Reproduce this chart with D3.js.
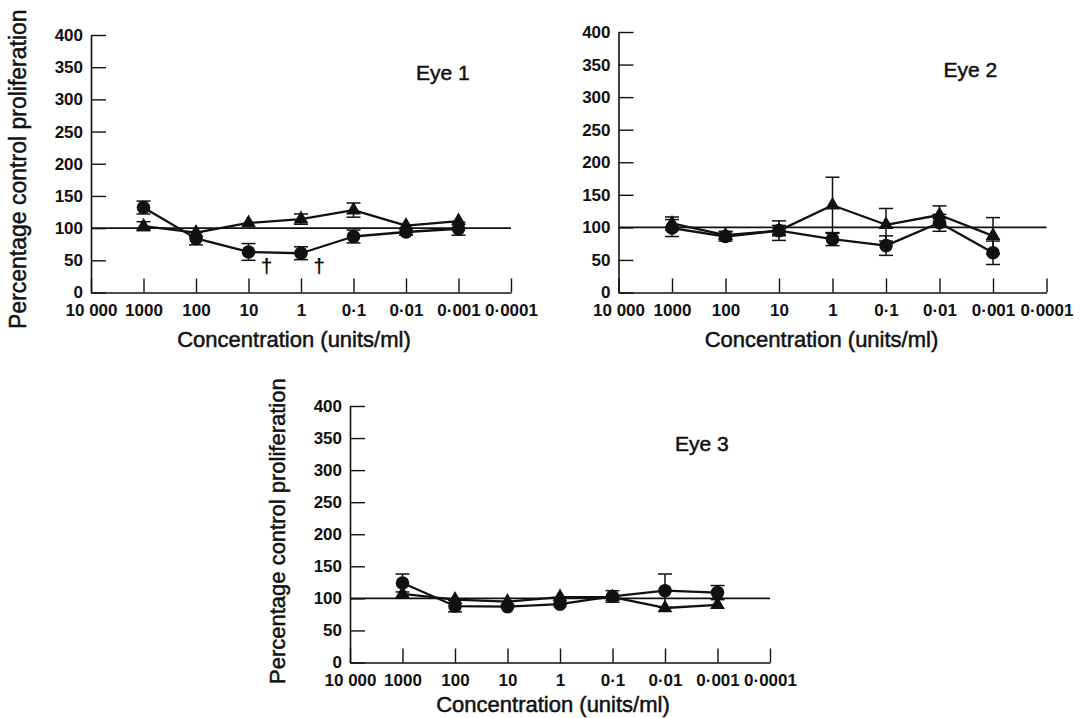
<!DOCTYPE html>
<html>
<head>
<meta charset="utf-8">
<script src="https://cdn.jsdelivr.net/npm/d3@7"></script>
<style>
  html, body { margin: 0; padding: 0; background: #fff; }
  svg { display: block; }
</style>
</head>
<body>
<svg id="chart" width="1087" height="718"></svg>
<script>
// ---------------- DATA ----------------
const concentrations = [1000, 100, 10, 1, 0.1, 0.01, 0.001];
const xTickValues = [10000, 1000, 100, 10, 1, 0.1, 0.01, 0.001, 0.0001];
const xTickLabels = ["10 000", "1000", "100", "10", "1", "0·1", "0·01", "0·001", "0·0001"];
const yTickValues = [0, 50, 100, 150, 200, 250, 300, 350, 400];
const controlLevel = 100;

// Eye 1
const eye1Circle      = [132, 84, 63, 61, 87, 94, 99];
const eye1CircleErr   = [10, 10, 13, 10, 10, 5, 10];
const eye1Triangle    = [103, 93, 108, 114, 128, 104, 111];
const eye1TriangleErr = [7, 0, 0, 8, 11, 0, 0];
const eye1Daggers     = [10, 1];

// Eye 2
const eye2Circle      = [99, 86, 95, 82, 72, 107, 61];
const eye2CircleErr   = [13, 7, 15, 10, 15, 13, 18];
const eye2Triangle    = [106, 88, 95, 134, 104, 119, 87];
const eye2TriangleErr = [10, 6, 8, 43, 25, 14, 28];

// Eye 3
const eye3Circle      = [124, 88, 87, 91, 103, 112, 109];
const eye3CircleErr   = [14, 9, 0, 0, 9, 26, 11];
const eye3Triangle    = [107, 98, 95, 102, 102, 85, 90];
const eye3TriangleErr = [0, 0, 0, 0, 0, 0, 0];

const panelTitles = ["Eye 1", "Eye 2", "Eye 3"];
const xTitle = "Concentration (units/ml)";
const yTitle = "Percentage control proliferation";

// ---------------- LAYOUT ----------------
const INK = "#111";
const FONT = "'Liberation Sans', Arial, Helvetica, sans-serif";
const svg = d3.select("#chart");

const panels = [
  { left: 91,    right: 511,    top: 35,  bottom: 292.5, xTitleDy: 54, yTitle: true,  yTitleStart: 329, yTitleSize: 23,
    circle: eye1Circle, circleErr: eye1CircleErr, tri: eye1Triangle, triErr: eye1TriangleErr,
    title: panelTitles[0], daggers: eye1Daggers },
  { left: 618.5, right: 1046.5, top: 32,  bottom: 292.5, xTitleDy: 54, yTitle: false,
    circle: eye2Circle, circleErr: eye2CircleErr, tri: eye2Triangle, triErr: eye2TriangleErr,
    title: panelTitles[1], daggers: [] },
  { left: 350,   right: 770,    top: 406, bottom: 662.5, xTitleDy: 49.5, yTitle: true,  yTitleStart: 684, yTitleSize: 22,
    circle: eye3Circle, circleErr: eye3CircleErr, tri: eye3Triangle, triErr: eye3TriangleErr,
    title: panelTitles[2], daggers: [] }
];

function drawPanel(p) {
  const g = svg.append("g");
  const x = d3.scaleLog().domain([10000, 0.0001]).range([p.left, p.right]);
  const y = d3.scaleLinear().domain([0, 400]).range([p.bottom, p.top]);

  // Y axis
  const ya = g.append("g")
    .attr("transform", `translate(${p.left},0)`)
    .call(d3.axisLeft(y).tickValues(yTickValues).tickSize(-15).tickSizeOuter(0).tickPadding(8));
  // X axis
  const xa = g.append("g")
    .attr("transform", `translate(0,${p.bottom})`)
    .call(d3.axisBottom(x).tickValues(xTickValues)
      .tickFormat((d, i) => xTickLabels[i]).tickSize(-14).tickSizeOuter(0).tickPadding(11));

  [ya, xa].forEach(a => {
    a.attr("font-family", FONT).attr("font-size", 17).attr("font-weight", "bold");
    a.select(".domain").attr("stroke", INK).attr("stroke-width", 1.6);
    a.selectAll(".tick line").attr("stroke", INK).attr("stroke-width", 1.4);
    a.selectAll(".tick text").attr("fill", INK);
  });

  // control reference line
  g.append("line")
    .attr("x1", x(10000)).attr("x2", x(0.0001))
    .attr("y1", y(controlLevel)).attr("y2", y(controlLevel))
    .attr("stroke", INK).attr("stroke-width", 1.6);

  const line = d3.line().x((d, i) => x(concentrations[i])).y(d => y(d));

  const series = [
    { vals: p.tri, errs: p.triErr, shape: "tri" },
    { vals: p.circle, errs: p.circleErr, shape: "circle" }
  ];

  series.forEach(s => {
    g.append("path").datum(s.vals)
      .attr("d", line).attr("fill", "none")
      .attr("stroke", INK).attr("stroke-width", 2.3).attr("stroke-linejoin", "round");
  });

  series.forEach(s => {
    const eb = g.append("g").attr("stroke", INK).attr("stroke-width", 1.5);
    s.vals.forEach((v, i) => {
      const e = s.errs[i];
      if (!e) return;
      const cx = x(concentrations[i]);
      eb.append("line").attr("x1", cx).attr("x2", cx).attr("y1", y(v - e)).attr("y2", y(v + e));
      [v - e, v + e].forEach(w => {
        eb.append("line").attr("x1", cx - 7).attr("x2", cx + 7).attr("y1", y(w)).attr("y2", y(w));
      });
    });
  });

  series.forEach(s => {
    if (s.shape === "circle") {
      g.append("g").selectAll("circle").data(s.vals).join("circle")
        .attr("cx", (d, i) => x(concentrations[i])).attr("cy", d => y(d))
        .attr("r", 6.8).attr("fill", INK);
    } else {
      const sym = d3.symbol(d3.symbolTriangle, 95);
      g.append("g").selectAll("path").data(s.vals).join("path")
        .attr("d", sym)
        .attr("transform", (d, i) => `translate(${x(concentrations[i])},${y(d)})`)
        .attr("fill", INK);
    }
  });

  // daggers
  p.daggers.forEach(c => {
    g.append("text")
      .attr("x", x(c) + 18).attr("y", y(30))
      .attr("text-anchor", "middle")
      .attr("font-family", FONT)
      .attr("font-weight", "bold").attr("font-size", 21).attr("fill", INK)
      .text("†");
  });

  // panel title
  g.append("text")
    .attr("x", p.left + 325).attr("y", p.top + 45)
    .attr("font-family", FONT)
    .attr("font-size", 21).attr("fill", INK)
    .attr("stroke", INK).attr("stroke-width", 0.5)
    .text(p.title);

  // x title
  g.append("text")
    .attr("x", p.left + 203).attr("y", p.bottom + p.xTitleDy)
    .attr("text-anchor", "middle")
    .attr("font-family", FONT)
    .attr("font-size", 22).attr("fill", INK)
    .attr("stroke", INK).attr("stroke-width", 0.5)
    .text(xTitle);

  // y title
  if (p.yTitle) {
    g.append("text")
      .attr("transform", `translate(${p.left - 65},${p.yTitleStart}) rotate(-90)`)
      .attr("text-anchor", "start")
      .attr("font-family", FONT)
      .attr("font-size", p.yTitleSize).attr("fill", INK)
      .attr("stroke", INK).attr("stroke-width", 0.5)
      .text(yTitle);
  }
}

panels.forEach(drawPanel);
</script>
</body>
</html>
